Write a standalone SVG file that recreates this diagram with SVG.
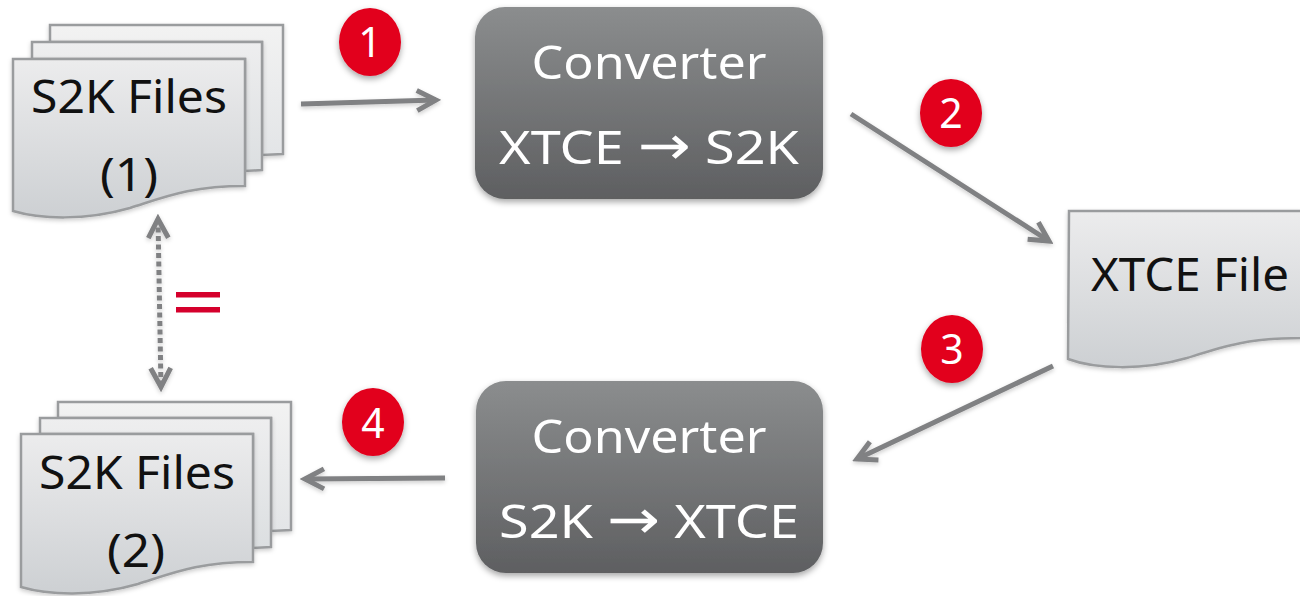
<svg xmlns="http://www.w3.org/2000/svg" width="1300" height="596" viewBox="0 0 1300 596">
<style>
text{font-family:"Noto Sans","DejaVu Sans",sans-serif;font-size:46px;text-anchor:middle}
.d{fill:#111}.w{fill:#fff}
.n{font-size:41px}
.ar{font-family:"DejaVu Sans",sans-serif;font-size:54px}
.sheet{stroke:#9a9c9e;stroke-width:2.5;filter:url(#soft)}
.s1{fill:url(#g1)}.s2{fill:url(#g2)}.s3{fill:url(#g3)}
.conv{fill:url(#dark);filter:url(#shadow)}
.badge{fill:#e2001f;filter:url(#shadow)}
.arrow{fill:none;stroke:#808183;stroke-width:5;marker-end:url(#head);filter:url(#soft)}
.dots{fill:none;stroke:#808183;stroke-width:5;stroke-dasharray:5 3.5;marker-start:url(#headStart);marker-end:url(#head);filter:url(#soft)}
.eq{fill:#d5002c}
</style>
<defs>
<linearGradient id="g1" x1="0" y1="0" x2="0" y2="1"><stop offset="0" stop-color="#ececed"/><stop offset="1" stop-color="#cdd0d3"/></linearGradient>
<linearGradient id="g2" x1="0" y1="0" x2="0" y2="1"><stop offset="0" stop-color="#eeeeef"/><stop offset="1" stop-color="#dcdfe1"/></linearGradient>
<linearGradient id="g3" x1="0" y1="0" x2="0" y2="1"><stop offset="0" stop-color="#f2f2f2"/><stop offset="1" stop-color="#e3e5e7"/></linearGradient>
<linearGradient id="dark" x1="0" y1="0" x2="0" y2="1"><stop offset="0" stop-color="#8b8d8e"/><stop offset="1" stop-color="#5e5f61"/></linearGradient>
<filter id="shadow" x="-10%" y="-10%" width="120%" height="125%"><feDropShadow dx="0" dy="3" stdDeviation="3" flood-color="#000" flood-opacity=".35"/></filter>
<filter id="soft" filterUnits="userSpaceOnUse" x="0" y="0" width="1300" height="596"><feDropShadow dx="0" dy="2" stdDeviation="2" flood-color="#000" flood-opacity=".2"/></filter>
<marker id="head" viewBox="0 0 30 30" refX="25" refY="15" markerUnits="userSpaceOnUse" markerWidth="30" markerHeight="30" orient="auto"><path d="M6 5 25 15 6 25" fill="none" stroke="#808183" stroke-width="5"/></marker>
<marker id="headStart" viewBox="0 0 30 30" refX="5" refY="15" markerUnits="userSpaceOnUse" markerWidth="30" markerHeight="30" orient="auto"><path d="M24 5 5 15 24 25" fill="none" stroke="#808183" stroke-width="5"/></marker>
</defs>
<g id="connectors">
<path class="arrow" d="M301 104 L436 100"/>
<path class="arrow" d="M851 114 L1049 241"/>
<path class="arrow" d="M1053 366 L857 459"/>
<path class="arrow" d="M445 478 L305 479"/>
<path class="dots" d="M158 219 L161 387"/>
</g>
<g id="files1">
<path class="sheet s3" d="M50 25H283V154L262 155V42H50Z"/>
<path class="sheet s2" d="M32 42H262V170L245 171V59H32Z"/>
<path class="sheet s1" d="M13 59H245V186C190 186 165 197 130 208C85 221 40 219 13 211Z"/>
<text class="d" x="129" y="113" textLength="196" lengthAdjust="spacingAndGlyphs">S2K Files</text>
<text class="d" x="129" y="191" textLength="58" lengthAdjust="spacingAndGlyphs">(1)</text>
</g>
<g id="files2">
<path class="sheet s3" d="M58 402H291V530L271 531V418H58Z"/>
<path class="sheet s2" d="M40 418H271V547L253 548V434H40Z"/>
<path class="sheet s1" d="M21 434H253V562C198 562 173 573 138 584C93 597 48 595 21 587Z"/>
<text class="d" x="137" y="489" textLength="196" lengthAdjust="spacingAndGlyphs">S2K Files</text>
<text class="d" x="136" y="567" textLength="58" lengthAdjust="spacingAndGlyphs">(2)</text>
</g>
<g id="xtce">
<path class="sheet s1" d="M1069 211H1302V338C1247 338 1222 347 1187 358C1142 371 1095 369 1068 359Z"/>
<text class="d" x="1190" y="291" textLength="198" lengthAdjust="spacingAndGlyphs">XTCE File</text>
</g>
<g id="conv1">
<rect class="conv" x="475" y="7" width="348" height="192" rx="30"/>
<text class="w" x="649" y="79" textLength="235" lengthAdjust="spacingAndGlyphs">Converter</text>
<text class="w" x="649" y="164" textLength="300" lengthAdjust="spacingAndGlyphs">XTCE <tspan class="ar">→</tspan> S2K</text>
</g>
<g id="conv2">
<rect class="conv" x="476" y="381" width="347" height="192" rx="30"/>
<text class="w" x="649" y="453" textLength="235" lengthAdjust="spacingAndGlyphs">Converter</text>
<text class="w" x="649" y="538" textLength="300" lengthAdjust="spacingAndGlyphs">S2K <tspan class="ar">→</tspan> XTCE</text>
</g>
<g id="badge1"><ellipse class="badge" cx="370" cy="42" rx="31" ry="34"/><text class="w n" x="370" y="57">1</text></g>
<g id="badge2"><ellipse class="badge" cx="951" cy="113" rx="31" ry="34"/><text class="w n" x="951" y="128">2</text></g>
<g id="badge3"><ellipse class="badge" cx="952" cy="349" rx="31" ry="34"/><text class="w n" x="952" y="364">3</text></g>
<g id="badge4"><ellipse class="badge" cx="373" cy="422" rx="31" ry="34"/><text class="w n" x="373" y="438">4</text></g>
<g id="equals"><rect class="eq" x="176" y="292" width="44" height="5.5"/><rect class="eq" x="176" y="307" width="44" height="5.5"/></g>
</svg>
